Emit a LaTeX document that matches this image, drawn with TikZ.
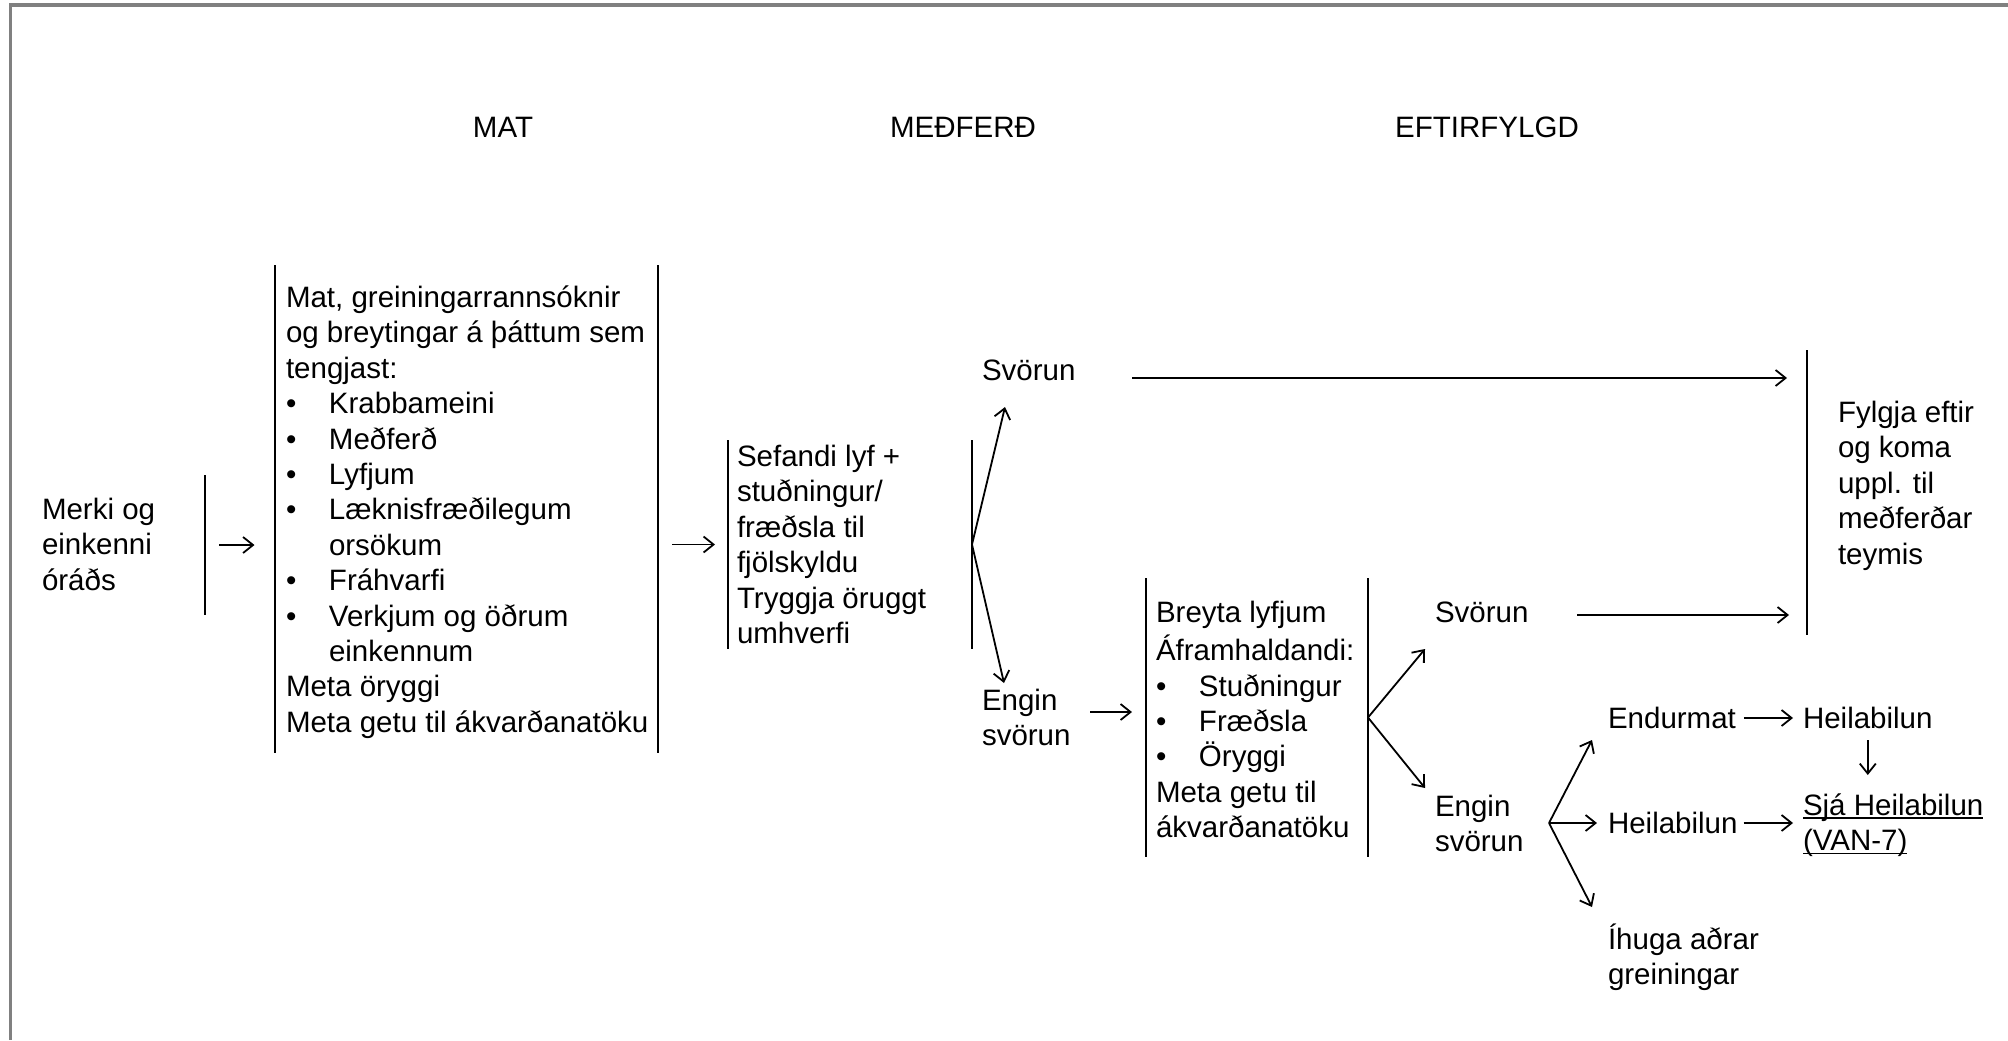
\documentclass[tikz,border=0pt]{standalone}
\usepackage{fontspec}
\setmainfont{Liberation Sans}
\usetikzlibrary{arrows.meta}
% bullet item, continuation indent and a close underline
\newcommand{\itembul}{\makebox[21.5pt][l]{\textbullet}}
\newcommand{\contind}{\hspace*{21.5pt}}
\newcommand{\ulbox}[1]{\setbox0\hbox{#1}\rlap{\rule[-1.8pt]{\wd0}{0.8pt}}\box0}
\begin{document}
\begin{tikzpicture}[x=0.5pt, y=-0.5pt,
  every node/.style={inner sep=0pt, outer sep=0pt,
    font=\fontsize{14.75pt}{17.7pt}\selectfont},
  lbl/.style={anchor=west, text height=10.56pt, text depth=0pt},
  head/.style={anchor=center, text height=10.56pt, text depth=0pt},
  txt/.style={anchor=north west, align=left},
  barpt/.style={minimum width=0pt, minimum height=#1},
  barline/.style={line width=1pt},
  arr/.style={line width=0.9pt, -{Straight Barb[length=5pt,width=8pt]}},
  frame/.style={draw=gray, line width=1.6pt}]
\useasboundingbox (0,0) rectangle (2008,1040);

% page frame (top and left edges)
\draw[frame] (10.5,1040) -- (10.5,5) -- (2008,5);

% column headings
\node[head] (hmat) at (503,127) {MAT};
\node[head] (hmed) at (963,127) {MEÐFERÐ};
\node[head] (heft) at (1487,127) {EFTIRFYLGD};

% vertical bars
\node[barpt=70pt]    (b1)  at (205,545)    {};
\node[barpt=244pt]   (b2l) at (274.5,509)  {};
\node[barpt=244pt]   (b2r) at (658,509)    {};
\node[barpt=104.5pt] (b3l) at (728,544.5)  {};
\node[barpt=104.5pt] (b3r) at (972,544.5)  {};
\node[barpt=139.5pt] (b4l) at (1146,717.5) {};
\node[barpt=139.5pt] (b4r) at (1368,717.5) {};
\node[barpt=142.5pt] (fb)  at (1807,492.5) {};
\foreach \b in {b1,b2l,b2r,b3l,b3r,b4l,b4r,fb}
  \draw[barline] (\b.north) -- (\b.south);

% texts
\node[txt] (merki) at (42,494.7) {\strut Merki og\\einkenni\\óráðs};
\node[txt] (mat) at (286,282.7) {\strut Mat, greiningarrannsóknir\\
  og breytingar á þáttum sem\\
  tengjast:\\
  \itembul Krabbameini\\
  \itembul Meðferð\\
  \itembul Lyfjum\\
  \itembul Læknisfræðilegum\\
  \contind orsökum\\
  \itembul Fráhvarfi\\
  \itembul Verkjum og öðrum\\
  \contind einkennum\\
  Meta öryggi\\
  Meta getu til ákvarðanatöku};
\node[txt] (sef) at (737,441.7) {\strut Sefandi lyf +\\stuðningur/\\fræðsla til\\fjölskyldu\\Tryggja öruggt\\umhverfi};
\node[lbl] (sv1) at (982,370) {Svörun};
\node[txt] (eng1) at (982,685.7) {\strut Engin\\svörun};
\node[txt] (breyta) at (1156,597.7) {\strut Breyta lyfjum\\
  Áframhaldandi:\\
  \itembul Stuðningur\\
  \itembul Fræðsla\\
  \itembul Öryggi\\
  Meta getu til\\
  ákvarðanatöku};
\node[lbl] (sv2) at (1435,612) {Svörun};
\node[txt] (eng2) at (1435,791.7) {\strut Engin\\svörun};
\node[lbl] (endur) at (1608,718) {Endurmat};
\node[lbl] (heil2) at (1608,823) {Heilabilun};
\node[txt] (ihuga) at (1608,923.7) {\strut Íhuga aðrar\\greiningar};
\node[lbl] (heil1) at (1803,718) {Heilabilun};
\node[txt] (sja) at (1803,790.7) {\strut\ulbox{Sjá Heilabilun}\\\ulbox{(VAN-7)}};
\node[txt] (fylgja) at (1838,397.7) {\strut Fylgja eftir\\og koma\\uppl. til\\meðferðar\\teymis};

% connector ends
\coordinate (sv1tip) at (1005,407);
\coordinate (eng1tip) at (1004,683);
\coordinate (sv2tip) at (1425,649);
\coordinate (eng2tip) at (1425,788);
\coordinate (fork) at (1549,823);
\coordinate (endtip) at (1592,740);
\coordinate (heiltip) at (1597,823);
\coordinate (ihtip) at (1592,907);
\coordinate (l1s) at (1132,378);
\coordinate (l2s) at (1577,615);
\coordinate (e1o) at (1090,712);

% connectors
\draw[arr, shorten <=7pt, shorten >=10pt] (b1.center) -- (b1.center -| b2l.center);
\draw[arr, shorten <=7pt, shorten >=6.5pt] (b2r.center |- b3l.center) -- (b3l.center);
\draw[arr] (b3r.center) -- (sv1tip);
\draw[arr] (b3r.center) -- (eng1tip);
\draw[arr, shorten >=10pt] (l1s) -- (l1s -| fb.center);
\draw[arr, shorten >=7pt] (e1o) -- (e1o -| b4l.center);
\draw[arr] (b4r.center) -- (sv2tip);
\draw[arr] (b4r.center) -- (eng2tip);
\draw[arr, shorten >=9pt] (l2s) -- (l2s -| fb.center);
\draw[arr] (fork) -- (endtip);
\draw[arr] (fork) -- (heiltip);
\draw[arr] (fork) -- (ihtip);
\draw[arr, shorten <=4pt, shorten >=5pt] (endur.east) -- (heil1.west);
\draw[arr, shorten <=3pt, shorten >=5pt] (heil2.east) -- (heil2.east -| sja.west);
\draw[arr, shorten <=5.75pt, shorten >=7.85pt] (heil1.south) -- (heil1.south |- sja.north);
\end{tikzpicture}
\end{document}
